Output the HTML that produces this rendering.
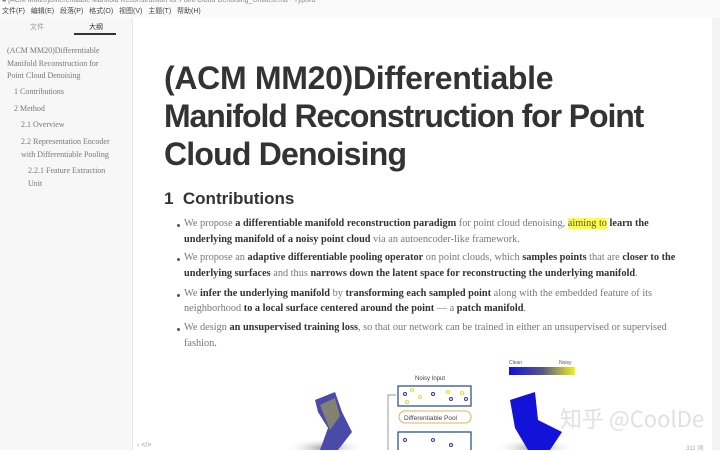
<!DOCTYPE html>
<html><head><meta charset="utf-8"><style>
*{margin:0;padding:0;box-sizing:border-box}
body{width:720px;height:450px;overflow:hidden;background:#fff;position:relative;font-family:"Liberation Serif","Noto Sans CJK SC",serif;color:#333}
.a{position:absolute;white-space:nowrap}
#top{position:absolute;left:0;top:0;width:720px;height:18px;background:#fafafa;font:7px "Liberation Sans","Noto Sans CJK SC",sans-serif;color:#444}
#side{position:absolute;left:0;top:18px;width:133px;height:432px;background:#f7f7f7;border-right:1px solid #e6e6e6}
.s{position:absolute;font-size:8px;color:#777;line-height:12.5px;white-space:nowrap}
.t{position:absolute;left:164px;font:bold 32px "Liberation Sans",sans-serif;color:#333;white-space:nowrap}
.l{position:absolute;left:184px;font-size:10.3px;color:#777;white-space:nowrap}
.l b{color:#333}
.d{position:absolute;left:177px;width:3px;height:3px;background:#555;border-radius:50%}
</style></head><body>
<div id="top"><div class="a" style="left:2px;top:-3px;color:#888">■ [ACM MM20]Differentiable Manifold Reconstruction for Point Cloud Denoising_Untitled.md - Typora</div>
<div class="a" style="left:2px;top:6px">文件(F)&nbsp;&nbsp; 编辑(E)&nbsp;&nbsp; 段落(P)&nbsp;&nbsp; 格式(O)&nbsp;&nbsp; 视图(V)&nbsp;&nbsp; 主题(T)&nbsp;&nbsp; 帮助(H)</div></div>
<div id="side">
<div class="a" style="left:30px;top:4px;font:7px 'Liberation Sans','Noto Sans CJK SC',sans-serif;color:#999">文件</div>
<div class="a" style="left:89px;top:4px;font:7px 'Liberation Sans','Noto Sans CJK SC',sans-serif;color:#333">大纲</div>
<div class="a" style="left:74px;top:15px;width:42px;height:2px;background:#333"></div>
<div class="s" style="left:7px;top:27px">(ACM MM20)Differentiable<br>Manifold Reconstruction for<br>Point Cloud Denoising</div>
<div class="s" style="left:14px;top:68px">1 Contributions</div>
<div class="s" style="left:14px;top:85px">2 Method</div>
<div class="s" style="left:21px;top:101px">2.1 Overview</div>
<div class="s" style="left:21px;top:118px">2.2 Representation Encoder<br>with Differentiable Pooling</div>
<div class="s" style="left:28px;top:147px">2.2.1 Feature Extraction<br>Unit</div>
</div>
<div class="t" style="top:60px;letter-spacing:-0.3px">(ACM MM20)Differentiable</div>
<div class="t" style="top:98px;letter-spacing:-1.1px">Manifold Reconstruction for Point</div>
<div class="t" style="top:136px;letter-spacing:-0.8px">Cloud Denoising</div>
<div class="a" style="left:164px;top:189px;font:bold 17px 'Liberation Sans',sans-serif;color:#333">1&nbsp; Contributions</div>
<div class="d" style="top:224px"></div><div class="d" style="top:258px"></div><div class="d" style="top:294px"></div><div class="d" style="top:328px"></div>
<div class="l" style="top:218px">We propose <b>a differentiable manifold reconstruction paradigm</b> for point cloud denoising, <span style="background:#ffff3a;color:#555">aiming to</span> <b>learn the</b></div>
<div class="l" style="top:234px"><b>underlying manifold of a noisy point cloud</b> via an autoencoder-like framework.</div>
<div class="l" style="top:252px">We propose an <b>adaptive differentiable pooling operator</b> on point clouds, which <b>samples points</b> that are <b>closer to the</b></div>
<div class="l" style="top:268px"><b>underlying surfaces</b> and thus <b>narrows down the latent space for reconstructing the underlying manifold</b>.</div>
<div class="l" style="top:288px">We <b>infer the underlying manifold</b> by <b>transforming each sampled point</b> along with the embedded feature of its</div>
<div class="l" style="top:303px">neighborhood <b>to a local surface centered around the point</b> — a <b>patch manifold</b>.</div>
<div class="l" style="top:322px">We design <b>an unsupervised training loss</b>, so that our network can be trained in either an unsupervised or supervised</div>
<div class="l" style="top:338px">fashion.</div>
<svg class="a" style="left:280px;top:350px" width="440" height="100">
<defs><radialGradient id="sh"><stop offset="0" stop-color="#999"/><stop offset="1" stop-color="#fff" stop-opacity="0"/></radialGradient>
<linearGradient id="cb"><stop offset="0" stop-color="#1010e0"/><stop offset="0.5" stop-color="#555588"/><stop offset="1" stop-color="#f0f020"/></linearGradient></defs>
<ellipse cx="45" cy="98" rx="40" ry="10" fill="url(#sh)"/>
<path d="M35 50 L55 42 L62 62 L72 82 L58 100 L40 100 L48 78 L38 62Z" fill="#4a4aa8"/>
<path d="M40 55 L55 48 L60 66 L50 80Z" fill="#a8a850" opacity=".6"/>
<ellipse cx="255" cy="98" rx="40" ry="10" fill="url(#sh)"/>
<path d="M230 50 L255 42 L258 70 L282 82 L270 100 L248 100 L235 78Z" fill="#1212d8"/>
<rect x="229" y="17" width="66" height="8" fill="url(#cb)"/>
<text x="229" y="14" font-size="5" font-family="Liberation Sans" fill="#555">Clean</text>
<text x="279" y="14" font-size="5" font-family="Liberation Sans" fill="#555">Noisy</text>
<text x="135" y="30" font-size="6" font-family="Liberation Sans" fill="#444">Noisy Input</text>
<rect x="118" y="36" width="73" height="20" fill="#fff" stroke="#1c4a7a" stroke-width="1.2"/>
<rect x="118" y="82" width="73" height="20" fill="#fff" stroke="#1c4a7a" stroke-width="1.2"/>
<rect x="119" y="61" width="72" height="12" rx="6" fill="#fff" stroke="#e0b060"/>
<text x="124" y="70" font-size="6.5" font-family="Liberation Sans" fill="#444">Differentiable Pool</text>
<path d="M108 100 V45 H116" stroke="#999" fill="none"/>
<g fill="none" stroke="#33a" stroke-width="1"><circle cx="125" cy="44" r="1.5"/><circle cx="153" cy="44" r="1.5"/><circle cx="171" cy="49" r="1.5"/><circle cx="186" cy="49" r="1.5"/><circle cx="125" cy="90" r="1.5"/><circle cx="153" cy="90" r="1.5"/><circle cx="171" cy="95" r="1.5"/></g>
<g fill="none" stroke="#dd3" stroke-width="1"><circle cx="132" cy="40" r="1.5"/><circle cx="140" cy="47" r="1.5"/><circle cx="127" cy="52" r="1.5"/><circle cx="168" cy="42" r="1.5"/><circle cx="182" cy="43" r="1.5"/></g>
<text x="280" y="77" font-size="22" font-family="Noto Sans CJK SC,sans-serif" fill="#ddd" opacity=".9">知乎 @CoolDe</text>
</svg>
<div class="a" style="left:712px;top:18px;width:8px;height:432px;background:#f3f3f3"></div>
<div class="a" style="left:137px;top:442px;font:7px 'Liberation Sans';color:#999">‹ &lt;/&gt;</div>
<div class="a" style="left:686px;top:443px;font:6px 'Liberation Sans';color:#aaa">311 词</div>
</body></html>
